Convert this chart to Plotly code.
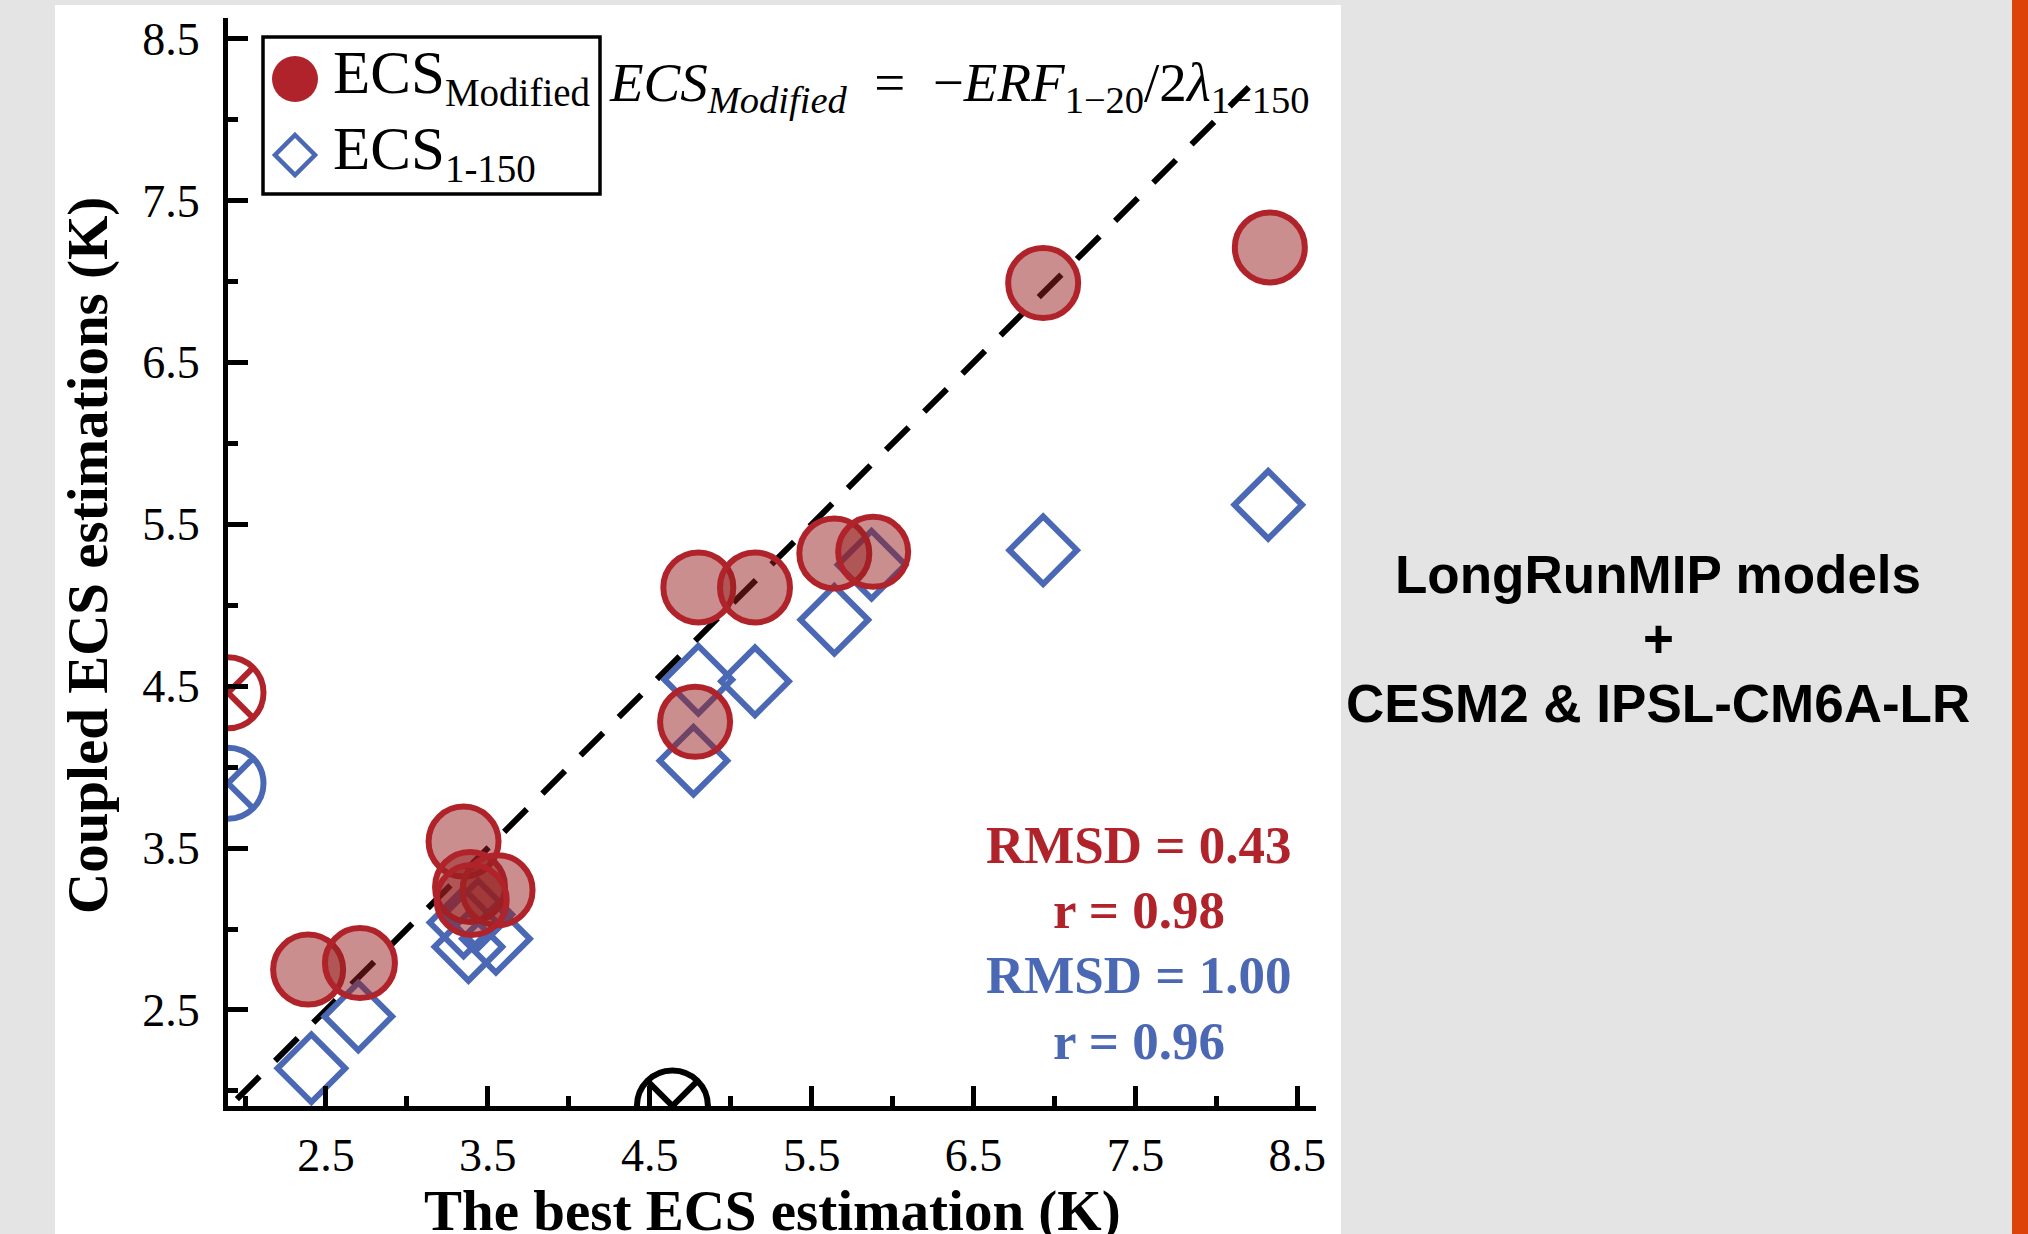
import plotly.graph_objects as go

# ---------------- data ----------------
best_ecs_mod = [2.39, 2.71, 3.35, 3.39, 3.56, 3.40, 4.78, 4.80, 5.15, 5.64, 5.88, 6.93, 8.33]
ecs_modified = [2.75, 2.79, 3.54, 3.26, 3.24, 3.18, 4.28, 5.11, 5.11, 5.32, 5.33, 6.99, 7.21]

best_ecs_150 = [2.41, 2.70, 3.35, 3.38, 3.55, 3.44, 4.77, 4.80, 5.15, 5.64, 5.87, 6.93, 8.32]
ecs_1_150 = [2.14, 2.46, 3.04, 2.89, 2.94, 3.09, 4.04, 4.54, 4.53, 4.91, 5.25, 5.34, 5.62]

# models falling outside the axes, drawn on the axis edge
offscale_x = [1.895, 1.895, 4.64]
offscale_y = [4.46, 3.90, 1.907]
offscale_colors = ["#B0232A", "#4A68B4", "#000000"]

one_to_one = [1.95, 8.2]

tick_vals = [2.5, 3.5, 4.5, 5.5, 6.5, 7.5, 8.5]
tick_text = ["2.5", "3.5", "4.5", "5.5", "6.5", "7.5", "8.5"]
minor_vals = [2.0, 3.0, 4.0, 5.0, 6.0, 7.0, 8.0]

legend_labels = ["ECS<sub><span style='font-size:39px'>Modified</span></sub>",
                 "ECS<sub><span style='font-size:39px'>1-150</span></sub>"]
stats_lines = ["RMSD = 0.43", "r = 0.98", "RMSD = 1.00", "r = 0.96"]
side_lines = ["LongRunMIP models", "+", "CESM2 &amp; IPSL-CM6A-LR"]

RED = "#B0232A"
BLUE = "#4A68B4"

# ---------------- geometry (pixels) ----------------
W, H = 2028, 1234
L, R, T, B = 228, 1316, 18, 1106


def px(x):
    return (x - L) / (R - L)


def py(y):
    return (B - y) / (B - T)


fig = go.Figure()

fig.add_trace(go.Scatter(
    x=one_to_one, y=one_to_one, mode="lines",
    line=dict(color="black", width=6, dash="32px,22px"),
    showlegend=False, hoverinfo="skip"))

fig.add_trace(go.Scatter(
    x=best_ecs_150, y=ecs_1_150, mode="markers",
    marker=dict(symbol="diamond-open", size=52, color=BLUE, line=dict(width=6, color=BLUE)),
    showlegend=False))

fig.add_trace(go.Scatter(
    x=best_ecs_mod, y=ecs_modified, mode="markers",
    marker=dict(symbol="circle", size=70, color="rgba(150,30,30,0.5)",
                line=dict(width=6, color=RED)),
    showlegend=False))

fig.add_trace(go.Scatter(
    x=offscale_x, y=offscale_y, mode="markers", cliponaxis=True,
    marker=dict(symbol="circle-x-open", size=71, color=offscale_colors,
                line=dict(width=6, color=offscale_colors)),
    showlegend=False))

axis_common = dict(
    showline=True, linewidth=5, linecolor="black", mirror=False,
    showgrid=False, zeroline=False,
    ticks="inside", ticklen=20, tickwidth=5, tickcolor="black",
    tickvals=tick_vals, ticktext=tick_text,
    tickfont=dict(family="Liberation Serif", size=46, color="black"),
    minor=dict(ticks="inside", ticklen=10, tickwidth=5, tickcolor="black",
               tickvals=minor_vals),
)

fig.update_xaxes(range=[1.895, 1.895 + (R - L) / 161.9], ticklabelstandoff=5, **axis_common)
fig.update_yaxes(range=[1.907, 1.907 + (B - T) / 161.9], ticklabelstandoff=14, **axis_common)

shapes = [
    # white panel
    dict(type="rect", xref="paper", yref="paper", layer="below",
         x0=px(55), x1=px(1341), y0=py(1250), y1=py(5),
         fillcolor="white", line=dict(width=0)),
    # orange strip
    dict(type="rect", xref="paper", yref="paper", layer="below",
         x0=px(2012), x1=px(2040), y0=py(1250), y1=py(-10),
         fillcolor="#DD4208", line=dict(width=0)),
    # legend box
    dict(type="rect", xref="paper", yref="paper", layer="above",
         x0=px(263), x1=px(600), y0=py(194), y1=py(37),
         fillcolor="white", line=dict(width=3.5, color="black")),
    # legend circle
    dict(type="circle", xref="paper", yref="paper", layer="above",
         x0=px(272), x1=px(318), y0=py(102), y1=py(56),
         fillcolor=RED, line=dict(width=0)),
    # legend diamond
    dict(type="path", xref="paper", yref="paper", layer="above",
         path=f"M {px(295)},{py(135)} L {px(315)},{py(155)} L {px(295)},{py(175)} L {px(275)},{py(155)} Z",
         fillcolor="rgba(0,0,0,0)", line=dict(width=4.5, color=BLUE)),
]

annotations = []


def ann(text, x, y, size, color="black", family="Liberation Serif", xanchor="center",
        yanchor="middle", angle=0):
    annotations.append(dict(text=text, x=px(x), y=py(y), xref="paper", yref="paper",
                            showarrow=False, xanchor=xanchor, yanchor=yanchor,
                            textangle=angle,
                            font=dict(family=family, size=size, color=color)))


# legend labels
ann(legend_labels[0], 331, 76, 61, xanchor="left")
ann(legend_labels[1], 331, 152, 61, xanchor="left")

# equation
ann("<i>ECS</i><sub><i>Modified</i></sub>  =  −<i>ERF</i><sub>1−20</sub>/2<i>λ</i><sub>1−150</sub>",
    959, 86, 55)

# statistics
stat_y = [845, 910, 975, 1041]
stat_c = [RED, RED, BLUE, BLUE]
for t, yy, c in zip(stats_lines, stat_y, stat_c):
    ann("<b>" + t + "</b>", 1139, yy, 53, color=c)

# axis titles
ann("<b>The best ECS estimation (K)</b>", 772, 1211, 57)
ann("<b>Coupled ECS estimations (K)</b>", 88, 556, 57, angle=-90)

# side text
for t, yy in zip(side_lines, [574, 638, 703]):
    ann("<b>" + t + "</b>", 1658, yy, 53, family="Liberation Sans")

fig.update_layout(
    width=W, height=H,
    margin=dict(l=L, r=W - R, t=T, b=H - B, pad=0),
    paper_bgcolor="#E4E4E4", plot_bgcolor="white",
    font=dict(family="Liberation Serif", color="black"),
    shapes=shapes, annotations=annotations,
    showlegend=False,
)

fig.write_html(
    "out.html",
    config={"displayModeBar": False},
    post_script=("document.body.style.margin='0px';document.body.style.padding='0px';"
                 "document.body.style.overflow='hidden';"
                 "document.documentElement.style.overflow='hidden';"
                 "document.body.style.background='#E4E4E4';"),
)
